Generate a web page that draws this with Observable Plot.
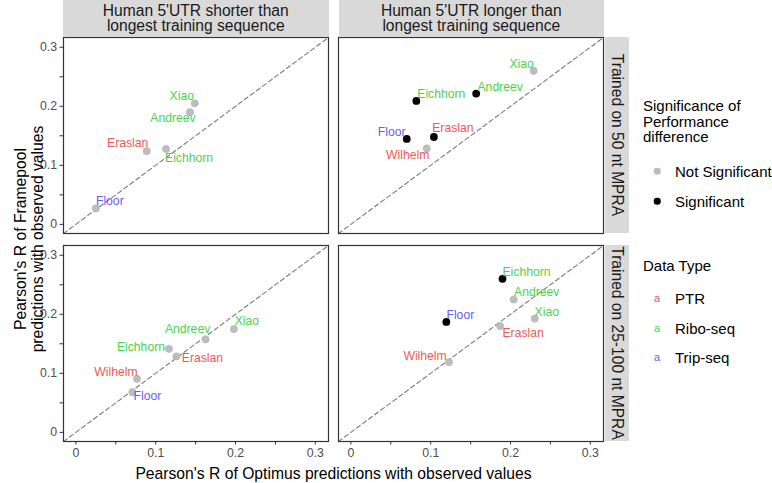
<!DOCTYPE html>
<html>
<head>
<meta charset="utf-8">
<script src="https://cdn.jsdelivr.net/npm/d3@7"></script>
<script src="https://cdn.jsdelivr.net/npm/@observablehq/plot@0.6"></script>
<style>
  body { margin: 0; background: #fff; font-family: Arial, "Liberation Sans", Helvetica, sans-serif; }
  #wrap { position: relative; width: 772px; height: 483px; overflow: hidden; }
  #wrap svg { position: absolute; left: 0; top: 0; }
  .strip { position: absolute; background: #d9d9d9; color: #1a1a1a; font-size: 15.6px; display: flex; align-items: center; justify-content: center; text-align: center; line-height: 15.5px; white-space: pre; }
  .vtext { position: absolute; white-space: pre; transform: translate(-50%, -50%) rotate(90deg); }
  .abs { position: absolute; white-space: pre; color: #000; }
  .legtitle { font-size: 15px; line-height: 15.7px; color: #000; }
  .legtext { font-size: 15px; color: #000; transform: translateY(-50%); }
  .dotk { position: absolute; border-radius: 50%; transform: translate(-50%, -50%); }
  .akey { position: absolute; font-size: 11px; transform: translate(-50%, -50%); }
</style>
</head>
<body>
<div id="wrap"></div>
<script>
// ---- categories ----
const lengthGroups = ["Human 5'UTR shorter than\nlongest training sequence", "Human 5'UTR longer than\nlongest training sequence"];
const trainingSets = ["Trained on 50 nt MPRA", "Trained on 25-100 nt MPRA"];
const dataTypes = ["PTR", "Ribo-seq", "Trip-seq"];
const significanceLevels = ["Not Significant", "Significant"];
const xTicks = [0, 0.05, 0.1, 0.15, 0.2, 0.25, 0.3];
const tickLabels = ["0", "", "0.1", "", "0.2", "", "0.3"];

// ---- series (one entry per point) ----
const panelLength = [0,0,0,0,0, 1,1,1,1,1,1, 0,0,0,0,0,0, 1,1,1,1,1,1];
const panelTraining = [0,0,0,0,0, 0,0,0,0,0,0, 1,1,1,1,1,1, 1,1,1,1,1,1];
const study = ["Xiao","Andreev","Eraslan","Eichhorn","Floor",
               "Xiao","Andreev","Eichhorn","Floor","Eraslan","Wilhelm",
               "Xiao","Andreev","Eichhorn","Eraslan","Wilhelm","Floor",
               "Eichhorn","Andreev","Floor","Xiao","Eraslan","Wilhelm"];
const studyType = ["Ribo-seq","Ribo-seq","PTR","Ribo-seq","Trip-seq",
               "Ribo-seq","Ribo-seq","Ribo-seq","Trip-seq","PTR","PTR",
               "Ribo-seq","Ribo-seq","Ribo-seq","PTR","PTR","Trip-seq",
               "Ribo-seq","Ribo-seq","Trip-seq","Ribo-seq","PTR","PTR"];
const optimusR = [0.149,0.143,0.0887,0.113,0.025,
               0.229,0.157,0.082,0.070,0.104,0.095,
               0.198,0.1625,0.1166,0.126,0.0766,0.0708,
               0.190,0.204,0.1196,0.2304,0.187,0.123];
const framepoolR = [0.205,0.190,0.124,0.1275,0.027,
               0.260,0.2215,0.209,0.1447,0.148,0.1286,
               0.175,0.1576,0.1414,0.1286,0.0908,0.068,
               0.260,0.225,0.187,0.1926,0.180,0.119];
const significant = [0,0,0,0,0,
               0,1,1,1,1,0,
               0,0,0,0,0,0,
               1,0,1,0,0,0];

// ---- label nudges (px, like ggrepel output) ----
const labelDx = [-13,-17,-19,23,14, -12,24,25,-15,19,-19, 13,-18,-28,26,-21,15, 24,23,14,12,23,-24];
const labelDy = [-7,6,-8,9,-7, -7,-6,-7,-7,-9,7, -8,-10,-2,2,-7,4, -7,-7,-7,-7,7,-6];

// ---- styles ----
const typeColors = {"PTR": "#ec5a55", "Ribo-seq": "#4bd24b", "Trip-seq": "#6a5cf2"};
const font = 'Arial, "Liberation Sans", Helvetica, sans-serif';

const rows = study.map((s, i) => ({
  study: s, type: studyType[i], optimus: optimusR[i], framepool: framepoolR[i],
  sig: significant[i] === 1, group: lengthGroups[panelLength[i]], train: trainingSets[panelTraining[i]],
  dx: labelDx[i], dy: labelDy[i]
}));

// layout
const W = 772, H = 483, mL = 63, mR = 168, mT = 37, mB = 42;
const gapX = 10, gapY = 12;
const panelW = (W - mL - mR - gapX) / 2;
const panelH = (H - mT - mB - gapY) / 2;
const padX = gapX / (panelW + gapX);
const padY = gapY / (panelH + gapY);
const domain = [-0.0155, 0.3165];
const diag = domain.slice();

const labelMarks = rows.map(r => Plot.text([r], {
  x: "optimus", y: "framepool", fx: "group", fy: "train", text: "study",
  dx: r.dx, dy: r.dy, fill: typeColors[r.type], fontSize: 12.2, fontFamily: font
}));

const chart = Plot.plot({
  width: W, height: H,
  marginLeft: mL, marginRight: mR, marginTop: mT, marginBottom: mB,
  style: {fontFamily: font, background: "transparent", color: "#333"},
  fx: {domain: lengthGroups, axis: null, paddingInner: padX},
  fy: {domain: trainingSets, axis: null, paddingInner: padY},
  x: {domain, axis: null},
  y: {domain, axis: null},
  marks: [
    Plot.line(diag, {x: d => d, y: d => d, stroke: "#7a7a7a", strokeWidth: 1.1, strokeDasharray: "4.5,3"}),
    Plot.frame({stroke: "#333", strokeWidth: 1.2}),
    Plot.axisX({ticks: xTicks, tickFormat: (d) => tickLabels[xTicks.indexOf(d)], tickSize: 3.5, tickPadding: 3, label: null, fontSize: 12.3, color: "#4d4d4d", stroke: "#333"}),
    Plot.axisY({ticks: xTicks, tickFormat: (d) => tickLabels[xTicks.indexOf(d)], tickSize: 3.5, tickPadding: 3, label: null, fontSize: 12.3, color: "#4d4d4d", stroke: "#333"}),
    Plot.dot(rows, {filter: d => !d.sig, x: "optimus", y: "framepool", fx: "group", fy: "train", r: 3.6, fill: "#bdbdbd", stroke: "#b0b0b0", strokeWidth: 0.6}),
    Plot.dot(rows, {filter: d => d.sig, x: "optimus", y: "framepool", fx: "group", fy: "train", r: 3.9, fill: "#000"}),
    ...labelMarks
  ]
});

const wrap = document.getElementById("wrap");
wrap.appendChild(chart);

function add(html) { wrap.insertAdjacentHTML("beforeend", html); }

// facet strips
const colX = [mL, mL + panelW + gapX];
const rowY = [mT, mT + panelH + gapY];
lengthGroups.forEach((g, i) => {
  add(`<div class="strip" style="left:${colX[i]}px;top:0px;width:${panelW}px;height:${mT - 0.5}px;">${g}</div>`);
});
const stripW = 24;
trainingSets.forEach((t, i) => {
  add(`<div class="strip" style="left:${W - mR + 1}px;top:${rowY[i]}px;width:${stripW}px;height:${panelH}px;"></div>`);
  add(`<div class="vtext" style="left:${W - mR + 1 + stripW / 2}px;top:${rowY[i] + panelH / 2}px;font-size:15.6px;color:#1a1a1a;">${t}</div>`);
});

// axis titles
add(`<div class="abs" style="left:${mL + (W - mL - mR) / 2}px;top:474px;font-size:15.7px;transform:translate(-50%,-50%);">Pearson's R of Optimus predictions with observed values</div>`);
add(`<div class="abs" style="left:28.5px;top:${mT + (H - mT - mB) / 2}px;font-size:15.7px;line-height:17px;text-align:center;transform:translate(-50%,-50%) rotate(-90deg);">Pearson's R of Framepool\npredictions with observed values</div>`);

// legends
const lx = 643;
add(`<div class="abs legtitle" style="left:${lx}px;top:98px;">Significance of\nPerformance\ndifference</div>`);
const sigY = [171, 201];
significanceLevels.forEach((s, i) => {
  const c = i === 0 ? "#bdbdbd" : "#000";
  add(`<div class="dotk" style="left:657px;top:${sigY[i]}px;width:6.5px;height:6.5px;background:${c};"></div>`);
  add(`<div class="abs legtext" style="left:675px;top:${sigY[i]}px;">${s}</div>`);
});
add(`<div class="abs legtitle" style="left:${lx}px;top:258px;">Data Type</div>`);
const typeY = [298, 328, 357];
dataTypes.forEach((t, i) => {
  add(`<div class="akey" style="left:657px;top:${typeY[i]}px;color:${typeColors[t]};">a</div>`);
  add(`<div class="abs legtext" style="left:675px;top:${typeY[i]}px;">${t}</div>`);
});
</script>
</body>
</html>
